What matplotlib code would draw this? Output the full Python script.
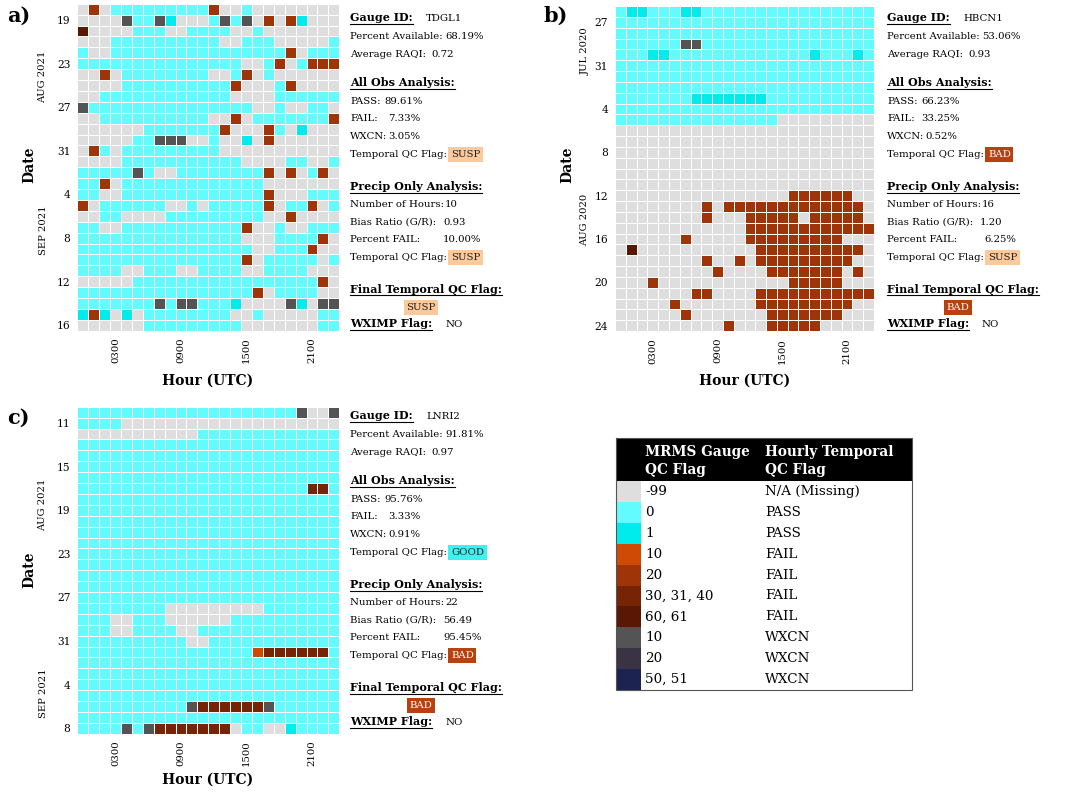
import numpy as np
import pandas as pd
import matplotlib
matplotlib.use('Agg')
import matplotlib.pyplot as plt
from matplotlib.colors import ListedColormap, BoundaryNorm
from matplotlib.lines import Line2D
from matplotlib.patches import Rectangle

# ---------------- data ----------------
flag_codes = ['.', 'a', 'b', 'c', 'd', 'e', 'f', 'g', 'h', 'i']
flag_values = ['-99', '0', '1', '10', '20', '30, 31, 40', '60, 61', '10', '20', '50, 51']
flag_names = ['N/A (Missing)', 'PASS', 'PASS', 'FAIL', 'FAIL', 'FAIL', 'FAIL', 'WXCN', 'WXCN', 'WXCN']
flag_colors = ['#dedede', '#62fbff', '#00ecec', '#cf4a04', '#9e3408', '#772406', '#591803',
               '#545454', '#3a3343', '#1c2350']

hour_ticks = [3, 9, 15, 21]
hour_labels = ['0300', '0900', '1500', '2100']

grid_a_start = '2021-08-18'
grid_a = [
    ".d.aaaaaaaaad..a........",
    "....gaagb...agag.d.db...",
    "f....aaa..aaaa..a.......",
    "...aaaaaaaaaa..aaa.....a",
    "a..aaaaaaaaaaaaaaaad.aaa",
    "aaaaaaaaaaaaaaa..ad.addd",
    "..d.aaaaaaaa..ad.a......",
    "....aaaaaaaaaad...ad....",
    "..aaaaaaaaaaaa....aaaaaa",
    "gaaaaaaaaaaaaaaa..a..aa.",
    "..aaaaaaaaaa..d.aaaaaaad",
    "......aaaaaaad...da.b...",
    ".....aaggg..a..b.d......",
    ".da.aaaaaaaaa...........",
    "....aaaaaaaaaaa....aa..a",
    "aaaaaga..aaaaaaaad.d.ad.",
    "aad.aaaaaaaaaaaaa.......",
    "aa..aaaaaaaaaaaaad...aaa",
    "d.aaaaaa..a.aaaaad.aad.a",
    "..aa....aaaaaaaaa..d....",
    "aa..aaaaaaaaaaad..a..aaa",
    "aaaaaaaaaaaaaaa...aaaad.",
    "aaaaaaaaaaaaaaaa..aaad..",
    "aaaaaaaaaaaaaaad.aaaaa.a",
    "aaaa..aaa..aaaa..aaaa...",
    ".....aaaaaaaaaaaaaaaaad.",
    "aaaaaaaaaaaaaaaad.aaaa..",
    "aaaaaaagaggaaab....gb.gg",
    "bdb.b.aaaaaaaa..a.....aa",
    "......aaaaaaaaa.......aa",
]

grid_b_start = '2020-07-26'
grid_b = [
    "abbaaabbaaaaaaaaaaaaaaaa",
    "aaaaaaaaaaaaaaaaaaaaaaaa",
    "aaaaaaaaaaaaaaaaaaaaaaaa",
    "aaaaaaggaaaaaaaaaaaaaaaa",
    "aaabbaaaaaaaaaaaaabaaaba",
    "aaaaaaaaaaaaaaaaaaaaaaaa",
    "aaaaaaaaaaaaaaaaaaaaaaaa",
    "aaaaaaaaaaaaaaaaaaaaaaaa",
    "aaaaaaabbbbbbbaaaaaaaaaa",
    "aaaaaaaaaaaaaaaaaaaaaaaa",
    "aaaaaaaaaaaaaaa.........",
    "........................",
    "........................",
    "........................",
    "........................",
    "........................",
    "........................",
    "................dddddd..",
    "........d.ddddddddddddd.",
    "........d...ddddd.ddddd.",
    "............dddddddddddd",
    "......d.....ddddddddd...",
    ".f...........dddddddddd.",
    "........d..d.ddddddddd..",
    ".........d....ddddddd.d.",
    "...d............ddddd...",
    ".......dd....ddddddddddd",
    ".....d.......ddddddddd..",
    "......d.......ddddddd...",
    "..........d...ddddd.....",
]

grid_c_start = '2021-08-10'
grid_c = [
    "aaaaaaaaaaaaaaaaaaaag..g",
    "aaaa....................",
    "...........aaaaaaaaaaaaa",
    "aaaaaaaaaaaaaaaaaaaaaaaa",
    "aaaaaaaaaaaaaaaaaaaaaaaa",
    "aaaaaaaaaaaaaaaaaaaaaaaa",
    "aaaaaaaaaaaaaaaaaaaaaaaa",
    "aaaaaaaaaaaaaaaaaaaaaeea",
    "aaaaaaaaaaaaaaaaaaaaaaaa",
    "aaaaaaaaaaaaaaaaaaaaaaaa",
    "aaaaaaaaaaaaaaaaaaaaaaaa",
    "aaaaaaaaaaaaaaaaaaaaaaaa",
    "aaaaaaaaaaaaaaaaaaaaaaaa",
    "aaaaaaaaaaaaaaaaaaaaaaaa",
    "aaaaaaaaaaaaaaaaaaaaaaaa",
    "aaaaaaaaaaaaaaaaaaaaaaaa",
    "aaaaaaaaaaaaaaaaaaaaaaaa",
    "aaaaaaaaaaaaaaaaaaaaaaaa",
    "aaaaaaaa.........aaaaaaa",
    "aaa..aaa......aaaaaaaaaa",
    "aaa..aaaa..aaaaaaaaaaaaa",
    "aaaaaaaaaa..aaaaaaaaaaaa",
    "aaaaaaaaaaaaaaaaceeeeeea",
    "aaaaaaaaaaaaaaaaaaaaaaaa",
    "aaaaaaaaaaaaaaaaaaaaaaaa",
    "aaaaaaaaaaaaaaaaaaaaaaaa",
    "aaaaaaaaaaaaaaaaaaaaaaaa",
    "aaaaaaaaaageeeeeegaaaaaa",
    "aaaaaaaaaaaaaaaaaaaaaaaa",
    "aaaagageeeeeee.aa..baaaa",
]

gauge_ids = ['TDGL1', 'HBCN1', 'LNRI2']
pct_available = ['68.19%', '53.06%', '91.81%']
avg_raqi = ['0.72', '0.93', '0.97']
pass_pct = ['89.61%', '66.23%', '95.76%']
fail_pct = ['7.33%', '33.25%', '3.33%']
wxcn_pct = ['3.05%', '0.52%', '0.91%']
obs_flag = ['SUSP', 'BAD', 'GOOD']
n_hours = ['10', '16', '22']
bias_ratio = ['0.93', '1.20', '56.49']
precip_fail_pct = ['10.00%', '6.25%', '95.45%']
precip_flag = ['SUSP', 'SUSP', 'BAD']
final_flag = ['SUSP', 'BAD', 'BAD']
wximp_flag = ['NO', 'NO', 'NO']

# ---------------- styling ----------------
W, H = 1066, 792
SERIF = 'DejaVu Serif'
FS = 7.3
FS_HDR = 8.0
flag_style = {'SUSP': ('#fbc99b', '#222222'),
              'BAD': ('#b5420f', '#ffffff'),
              'GOOD': ('#3ef0ee', '#222222')}

for g in (grid_a, grid_b, grid_c):
    for r in g:
        assert len(r) == 24, r

fig = plt.figure(figsize=(W / 100, H / 100), dpi=100)
fig.patch.set_facecolor('white')

to_underline = []


def ftext(x, y, s, **kw):
    kw.setdefault('family', SERIF)
    kw.setdefault('fontsize', FS)
    return fig.text(x / W, 1 - y / H, s, **kw)


def label(x, y, s, bold=False, underline=False, box=None, ha='left'):
    kw = dict(va='baseline', ha=ha)
    if bold:
        kw['fontweight'] = 'bold'
        kw['fontsize'] = FS_HDR
    if box is not None:
        fc, tc = flag_style[box]
        kw['bbox'] = dict(boxstyle='square,pad=0.25', fc=fc, ec='none')
        kw['color'] = tc
    t = ftext(x, y + 4, s, **kw)
    if underline:
        to_underline.append((t, y + 6.5))
    return t


cmap = ListedColormap(flag_colors)
norm = BoundaryNorm(np.arange(-0.5, len(flag_codes) + 0.5, 1), cmap.N)


def draw_panel(grid, start, rect, letter, letter_xy, month_rows, month_x, date_xy, hour_xy):
    x0, y0, x1, y1 = rect
    ax = fig.add_axes([x0 / W, 1 - y1 / H, (x1 - x0) / W, (y1 - y0) / H])
    Z = np.array([[flag_codes.index(ch) for ch in row] for row in grid])
    nr, nc = Z.shape
    ax.pcolormesh(np.arange(nc + 1), np.arange(nr + 1), Z, cmap=cmap, norm=norm,
                  edgecolors='white', linewidth=0.5)
    ax.set_xlim(0, nc)
    ax.set_ylim(nr, 0)
    for s in ax.spines.values():
        s.set_visible(False)
    ax.set_xticks(np.array(hour_ticks) + 0.5)
    ax.set_xticklabels(hour_labels, rotation=90, family=SERIF, fontsize=FS)
    dates = pd.date_range(start, periods=nr)
    yt = np.arange(1, nr, 4)
    ax.set_yticks(yt + 0.5)
    ax.set_yticklabels([str(dates[i].day) for i in yt], family=SERIF, fontsize=FS + 0.4)
    ax.tick_params(length=0, pad=5)
    ftext(letter_xy[0], letter_xy[1], letter, fontsize=15, fontweight='bold', va='center', ha='left')
    cell_h = (y1 - y0) / nr
    for r in month_rows:
        ftext(month_x, y0 + r * cell_h, dates[int(r)].strftime('%b %Y').upper(),
              rotation=90, va='center', ha='center', fontsize=FS - 0.1)
    ftext(date_xy[0], date_xy[1], 'Date', rotation=90, fontsize=10, fontweight='bold',
          va='center', ha='center')
    ftext(hour_xy[0], hour_xy[1], 'Hour (UTC)', fontsize=10, fontweight='bold',
          va='center', ha='center')
    return ax


draw_panel(grid_a, grid_a_start, (77.3, 3.7, 339.3, 330.7), 'a)', (7, 16), [6.7, 20.8], 43,
           (29, 165), (208, 381))
draw_panel(grid_b, grid_b_start, (615, 6, 874, 331), 'b)', (543, 16), [4.2, 19.7], 585,
           (567, 165), (745, 381))
draw_panel(grid_c, grid_c_start, (77.3, 406.7, 339.3, 733.7), 'c)', (7, 418), [9.0, 26.3], 43,
           (29, 570), (208, 780))


def pct_offset(v, wide, narrow):
    return wide if len(v) >= 6 else narrow


def info_block(x, y, k):
    label(x, y, 'Gauge ID:', bold=True, underline=True)
    label(x + 76, y, gauge_ids[k])
    label(x, y + 18, 'Percent Available:')
    label(x + 95, y + 18, pct_available[k])
    label(x, y + 36, 'Average RAQI:')
    label(x + 81, y + 36, avg_raqi[k])
    label(x, y + 65, 'All Obs Analysis:', bold=True, underline=True)
    label(x, y + 83, 'PASS:')
    label(x + 34, y + 83, pass_pct[k])
    label(x, y + 100, 'FAIL:')
    label(x + pct_offset(fail_pct[k], 34, 38), y + 100, fail_pct[k])
    label(x, y + 118, 'WXCN:')
    label(x + pct_offset(wxcn_pct[k], 34, 38), y + 118, wxcn_pct[k])
    label(x, y + 136, 'Temporal QC Flag:')
    label(x + 101, y + 136, obs_flag[k], box=obs_flag[k])
    label(x, y + 169, 'Precip Only Analysis:', bold=True, underline=True)
    label(x, y + 186, 'Number of Hours:')
    label(x + 95, y + 186, n_hours[k])
    label(x, y + 204, 'Bias Ratio (G/R):')
    label(x + 93, y + 204, bias_ratio[k])
    label(x, y + 221, 'Percent FAIL:')
    label(x + pct_offset(precip_fail_pct[k], 93, 97), y + 221, precip_fail_pct[k])
    label(x, y + 239, 'Temporal QC Flag:')
    label(x + 101, y + 239, precip_flag[k], box=precip_flag[k])
    label(x, y + 272, 'Final Temporal QC Flag:', bold=True, underline=True)
    label(x + 71, y + 289, final_flag[k], box=final_flag[k], ha='center')
    label(x, y + 306, 'WXIMP Flag:', bold=True, underline=True)
    label(x + 95, y + 306, wximp_flag[k])


info_block(350, 17, 0)
info_block(887, 17, 1)
info_block(350, 415, 2)

# ---------------- legend table ----------------
lx0, ly0, lx1, ly1 = 616, 438, 912, 690
lax = fig.add_axes([lx0 / W, 1 - ly1 / H, (lx1 - lx0) / W, (ly1 - ly0) / H])
lw_, lh_ = lx1 - lx0, ly1 - ly0
lax.set_xlim(0, lw_)
lax.set_ylim(lh_, 0)
lax.axis('off')
hdr = 43
lax.add_patch(Rectangle((0, 0), lw_, hdr, fc='black', ec='none'))
row_h = (lh_ - hdr) / len(flag_values)
for i, (v, n, c) in enumerate(zip(flag_values, flag_names, flag_colors)):
    yc = hdr + (i + 0.5) * row_h
    lax.add_patch(Rectangle((0, hdr + i * row_h), 25, row_h, fc=c, ec='none'))
    lax.text(29, yc, v, family=SERIF, fontsize=9.7, va='center', ha='left')
    lax.text(149, yc, n, family=SERIF, fontsize=9.7, va='center', ha='left')
lax.add_patch(Rectangle((0, 0), lw_, lh_, fc='none', ec='#555555', lw=0.8, clip_on=False))
for (tx, ty, s) in [(29, 14, 'MRMS Gauge'), (29, 32, 'QC Flag'),
                    (149, 14, 'Hourly Temporal'), (149, 32, 'QC Flag')]:
    lax.text(tx, ty, s, family=SERIF, fontsize=9.8, fontweight='bold', color='white', va='center')

# ---------------- underlines ----------------
fig.canvas.draw()
renderer = fig.canvas.get_renderer()
for t, yy in to_underline:
    bb = t.get_window_extent(renderer)
    fig.add_artist(Line2D([bb.x0 / W, bb.x1 / W], [1 - yy / H, 1 - yy / H],
                          transform=fig.transFigure, color='black', lw=0.8))

fig.savefig('out.png', dpi=100)
